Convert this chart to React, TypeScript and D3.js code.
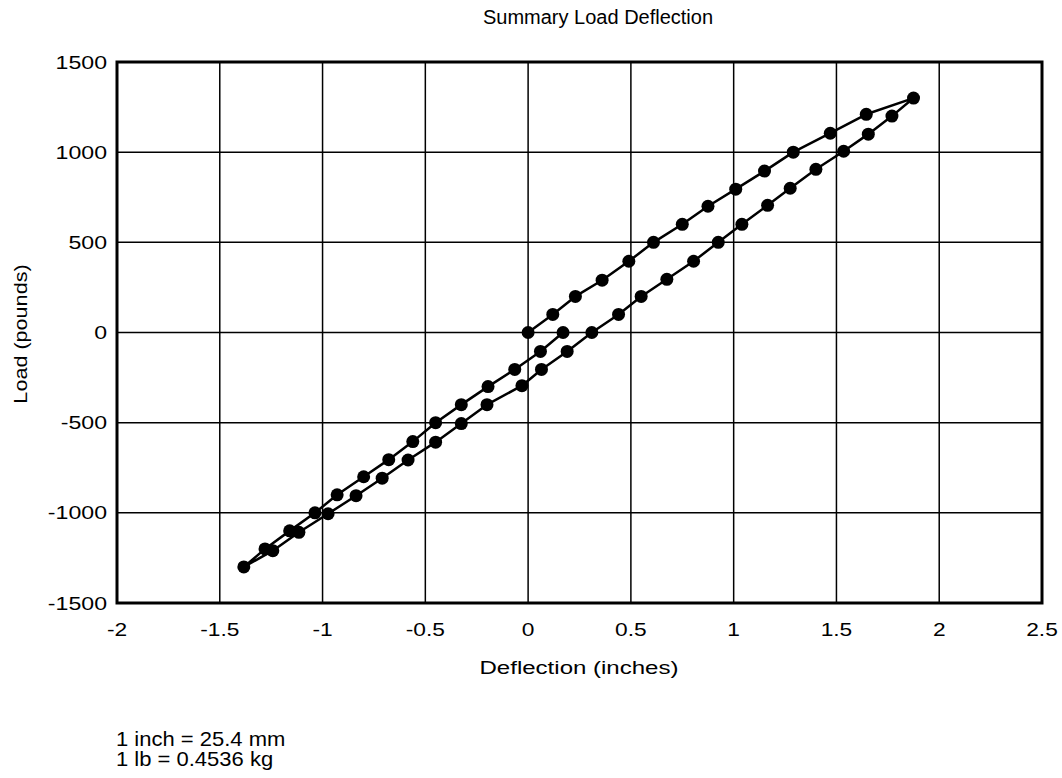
import React from "react";
import * as d3 from "d3";

const loadingX = [0, 0.12, 0.23, 0.36, 0.49, 0.61, 0.75, 0.875, 1.01, 1.15, 1.29, 1.47, 1.645, 1.875];
const loadingY = [0, 100, 200, 290, 395, 500, 600, 700, 795, 895, 1000, 1105, 1210, 1300];

const unloadingX = [1.875, 1.77, 1.655, 1.535, 1.40, 1.275, 1.165, 1.04, 0.925, 0.805, 0.675, 0.55, 0.44, 0.31, 0.19, 0.065, -0.03, -0.2, -0.325, -0.45, -0.584, -0.71, -0.837, -0.973, -1.115, -1.242, -1.383];
const unloadingY = [1300, 1200, 1100, 1005, 905, 800, 705, 600, 500, 395, 295, 200, 100, 0, -105, -205, -295, -400, -505, -608, -707, -808, -905, -1005, -1108, -1210, -1300];

const reloadX = [-1.383, -1.28, -1.16, -1.037, -0.929, -0.8, -0.678, -0.561, -0.45, -0.325, -0.195, -0.065, 0.06, 0.17];
const reloadY = [-1300, -1200, -1100, -1000, -900, -800, -705, -605, -500, -400, -300, -205, -105, 0];

const xTicks = [-2, -1.5, -1, -0.5, 0, 0.5, 1, 1.5, 2, 2.5];
const yTicks = [-1500, -1000, -500, 0, 500, 1000, 1500];

const title = "Summary Load Deflection";
const xLabel = "Deflection (inches)";
const yLabel = "Load (pounds)";
const notes = ["1 inch = 25.4 mm", "1 lb = 0.4536 kg"];

function SText(props: { x: number; y: number; sx: number; size: number; anchor?: string; rotate?: number; children: React.ReactNode }) {
  const { x, y, sx, size, anchor = "start", rotate = 0, children } = props;
  return (
    <text
      transform={`translate(${x},${y}) rotate(${rotate}) scale(${sx},1)`}
      textAnchor={anchor}
      fontSize={size}
      fill="#000"
    >
      {children}
    </text>
  );
}

export default function App() {
  const W = 1062, H = 778;
  const left = 117, right = 1042, top = 62, bottom = 603;
  const x = d3.scaleLinear().domain([-2, 2.5]).range([left, right]);
  const y = d3.scaleLinear().domain([-1500, 1500]).range([bottom, top]);

  const pts: [number, number][] = [
    ...loadingX.map((v, i) => [v, loadingY[i]] as [number, number]),
    ...unloadingX.slice(1).map((v, i) => [v, unloadingY[i + 1]] as [number, number]),
    ...reloadX.slice(1).map((v, i) => [v, reloadY[i + 1]] as [number, number]),
  ];
  const line = d3.line<[number, number]>().x(d => x(d[0])).y(d => y(d[1]));
  const font = "'Liberation Sans', Arial, Helvetica, sans-serif";

  return (
    <svg width={W} height={H} style={{ position: "absolute", left: 0, top: 0, background: "#fff" }} fontFamily={font}>
      <rect x={0} y={0} width={W} height={H} fill="#fff" />
      <SText x={598} y={24} sx={1.0} size={20} anchor="middle">{title}</SText>
      {xTicks.map(t => (
        <line key={"gx" + t} x1={x(t)} x2={x(t)} y1={top} y2={bottom} stroke="#000" strokeWidth={1.5} />
      ))}
      {yTicks.map(t => (
        <line key={"gy" + t} x1={left} x2={right} y1={y(t)} y2={y(t)} stroke="#000" strokeWidth={1.5} />
      ))}
      <rect x={left} y={top} width={right - left} height={bottom - top} fill="none" stroke="#000" strokeWidth={3} />
      {xTicks.map(t => (
        <SText key={"tx" + t} x={x(t)} y={636} sx={1.3} size={17.5} anchor="middle">{String(t)}</SText>
      ))}
      {yTicks.map(t => (
        <SText key={"ty" + t} x={left - 10} y={y(t) + 6.5} sx={1.25} size={18.5} anchor="end">{String(t)}</SText>
      ))}
      <SText x={579} y={674} sx={1.3} size={18.5} anchor="middle">{xLabel}</SText>
      <SText x={27} y={334} sx={1.2} size={18} anchor="middle" rotate={-90}>{yLabel}</SText>
      <path d={line(pts) || ""} fill="none" stroke="#000" strokeWidth={2.5} strokeLinejoin="round" />
      {pts.map((p, i) => (
        <circle key={i} cx={x(p[0])} cy={y(p[1])} r={6.5} fill="#000" />
      ))}
      {notes.map((n, i) => (
        <SText key={n} x={116} y={746 + i * 20} sx={1.1} size={20}>{n}</SText>
      ))}
    </svg>
  );
}
